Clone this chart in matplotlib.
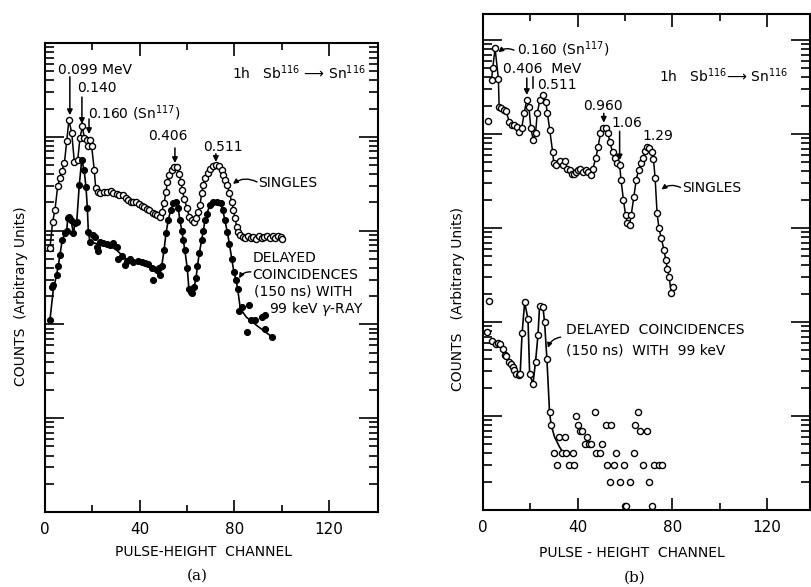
import matplotlib
matplotlib.use("Agg")
import matplotlib.pyplot as plt
from matplotlib.ticker import LogLocator, NullFormatter

# ---------------------------------------------------------- #
#  Data (counts in arbitrary units)     #
# ---------------------------------------------------------- #
# (a) singles
SINGLES_A_CH = [2.1, 3.2, 4.2, 5.4, 6.3, 7.0, 8.2, 9.2, 10.1, 11.3,
                12.4, 13.8, 14.8, 15.8, 16.6, 17.6, 18.3, 19.0, 19.7, 20.8,
                21.4, 22.5, 23.2, 24.9, 26.3, 27.8, 28.9, 30.3, 31.4, 32.8,
                34.2, 35.2, 36.2, 37.3, 38.4, 39.9, 40.8, 41.8, 42.9, 44.1,
                45.5, 46.5, 47.5, 48.6, 49.3, 50.3, 51.1, 51.7, 52.5, 53.5,
                54.6, 55.9, 56.7, 57.5, 58.0, 58.9, 59.9, 61.0, 62.0, 63.0,
                63.8, 64.8, 65.5, 66.2, 66.9, 67.6, 68.7, 69.7, 70.8, 72.2,
                73.6, 74.6, 75.3, 76.0, 77.0, 77.9, 78.9, 79.6, 80.3, 81.0,
                81.7, 82.4, 83.5, 84.7, 85.8, 87.0, 88.0, 89.2, 90.3, 91.5,
                92.7, 93.8, 95.0, 96.2, 97.3, 98.5, 99.6, 100.3]
SINGLES_A_CT = [650, 1230, 1660, 3020, 3630, 4270, 5250, 9120, 15100, 11000,
                5370, 5620, 9770, 12900, 9770, 9330, 7940, 9330, 7940, 4470,
                2880, 2570, 2510, 2550, 2570, 2630, 2510, 2450, 2400, 2380,
                2240, 2140, 2040, 2000, 2040, 1910, 1820, 1780, 1700, 1660,
                1550, 1510, 1450, 1410, 1580, 1950, 2570, 3310, 3890, 4470,
                4790, 4790, 3980, 3310, 2690, 2190, 1740, 1410, 1290, 1230,
                1350, 1580, 1860, 2510, 3090, 3630, 4070, 4570, 4900, 5010,
                4900, 4470, 3890, 3470, 3090, 2510, 2040, 1660, 1350, 1100,
                977, 891, 851, 832, 871, 832, 851, 813, 871, 832,
                851, 871, 832, 871, 832, 871, 851, 813]

# (a) delayed coincidences, measured points
DELAYED_A_CH = [2.1, 2.8, 3.5, 4.9, 5.6, 6.3, 7.3, 8.4, 9.2, 9.6,
                10.3, 11.0, 12.0, 12.7, 13.4, 14.5, 15.5, 16.5, 17.3, 17.9,
                18.3, 19.0, 20.4, 21.1, 21.8, 22.5, 23.2, 24.6, 26.0, 27.5,
                28.9, 30.3, 31.0, 32.4, 33.8, 34.5, 35.9, 37.3, 39.4, 40.8,
                42.2, 43.6, 45.0, 45.5, 47.2, 48.0, 48.6, 49.3, 50.3, 51.1,
                52.1, 53.1, 54.2, 55.3, 56.3, 57.0, 57.8, 58.4, 59.1, 60.1,
                60.8, 61.5, 62.2, 63.0, 63.8, 64.4, 65.2, 66.2, 66.9, 67.6,
                68.3, 69.7, 71.1, 72.8, 74.2, 75.1, 76.0, 77.0, 77.9, 78.9,
                79.8, 80.7, 81.4, 82.1, 83.1, 85.2, 86.3, 86.9, 88.7, 91.5,
                93.0, 93.0, 95.8]
DELAYED_A_CT = [112, 251, 263, 339, 417, 550, 794, 933, 1000, 1350,
                1410, 1290, 933, 1200, 1230, 3090, 5620, 4470, 2950, 1740,
                977, 759, 891, 851, 676, 603, 759, 741, 724, 708,
                741, 676, 501, 537, 427, 479, 501, 457, 479, 468,
                447, 437, 398, 295, 380, 398, 339, 417, 617, 933,
                1290, 1660, 1950, 2040, 1740, 1290, 1000, 794, 617, 398,
                240, 224, 214, 251, 309, 417, 575, 794, 1000, 1290,
                1510, 1860, 2040, 2040, 1950, 1660, 1290, 977, 724, 501,
                363, 295, 240, 138, 155, 83, 162, 112, 112, 120,
                126, 89, 74]

# (a) delayed coincidences, hand-drawn curve
DELAYED_A_LINE_CH = [2.1, 3.5, 4.9, 5.6, 6.3, 7.3, 8.4, 9.2, 9.6, 10.3,
                     11.0, 12.0, 12.7, 13.4, 14.5, 15.5, 16.5, 17.3, 17.9, 18.3,
                     19.0, 22.0, 26.0, 30.0, 34.0, 38.0, 42.0, 46.0, 48.6, 49.3,
                     50.3, 51.1, 52.1, 53.1, 54.2, 55.3, 56.3, 57.0, 57.8, 58.4,
                     59.1, 60.1, 60.8, 61.5, 62.2, 63.0, 63.8, 64.4, 65.2, 66.2,
                     66.9, 67.6, 68.3, 69.7, 71.1, 72.8, 74.2, 75.1, 76.0, 77.0,
                     77.9, 78.9, 79.8, 80.7, 81.4, 82.5, 85.0, 90.0, 95.8]
DELAYED_A_LINE_CT = [112, 234, 339, 417, 550, 794, 933, 1000, 1350, 1410,
                     1290, 933, 1200, 1230, 3090, 5620, 4470, 2950, 1740, 977,
                     759, 724, 708, 630, 501, 468, 447, 407, 398, 417,
                     617, 933, 1290, 1660, 1950, 2040, 1740, 1290, 1000, 794,
                     617, 398, 240, 224, 214, 251, 309, 417, 575, 794,
                     1000, 1290, 1510, 1860, 2040, 2040, 1950, 1660, 1290, 977,
                     724, 501, 363, 295, 240, 148, 120, 95, 74]

# (b) singles
SINGLES_B_CH = [3.6, 4.1, 5.1, 6.5, 6.8, 7.8, 8.8, 9.8, 11.1, 12.1,
                13.0, 14.2, 15.3, 16.3, 17.4, 18.4, 19.4, 20.2, 21.2, 22.2,
                22.9, 24.0, 25.2, 26.5, 27.2, 28.2, 29.4, 29.9, 31.0, 32.5,
                33.6, 34.5, 35.5, 36.6, 37.5, 38.3, 39.3, 40.3, 41.1, 42.4,
                43.3, 44.2, 45.5, 46.4, 47.6, 48.6, 49.6, 50.7, 51.8, 52.8,
                53.5, 54.7, 55.6, 56.6, 57.7, 58.3, 59.3, 60.2, 61.0, 61.9,
                62.6, 63.7, 64.7, 65.7, 66.8, 67.5, 68.5, 69.3, 70.3, 71.3,
                72.0, 72.7, 73.5, 74.3, 75.3, 76.4, 77.2, 77.9, 78.6, 79.5,
                80.4]
SINGLES_B_CT = [37200, 50100, 81300, 38900, 19500, 19100, 18200, 17400, 13500, 12600,
                12500, 12000, 10500, 11500, 16600, 22900, 19500, 11500, 8710, 10200,
                16600, 22900, 25700, 21900, 16600, 11000, 6460, 4900, 4680, 5130,
                4680, 5130, 4270, 4170, 3800, 3800, 3980, 4170, 4270, 3980,
                4170, 3980, 3630, 4270, 5500, 7240, 10200, 11500, 11700, 10200,
                8320, 6460, 5500, 4900, 4680, 3240, 2000, 1380, 1120, 1070,
                1380, 2140, 3240, 4170, 4900, 5500, 6610, 7240, 7080, 6460,
                5370, 3390, 1450, 1000, 776, 589, 457, 363, 302, 204,
                234]
SINGLES_B_STRAY_CH = [2.3]
SINGLES_B_STRAY_CT = [13800]

# (b) delayed coincidences
DELAYED_B_CH = [1.7, 2.5, 3.9, 5.3, 6.3, 7.3, 8.4, 9.1, 9.8, 10.9, 11.9, 12.6,
                13.3, 14.0, 15.2, 15.7, 16.5, 17.6, 19.0, 19.7, 21.1, 22.2,
                23.2, 23.9, 25.3, 26.0, 27.0, 28.1, 28.8]
DELAYED_B_CT = [79, 166, 63, 59, 60, 58, 52, 45, 44, 38, 36, 33,
                31, 28, 27, 28, 76, 162, 107, 28, 22, 38,
                72, 148, 145, 100, 40, 11, 8]
SCATTER_B_CH = [30.1, 31.2, 32.2, 33.4, 34.6, 35.2, 36.4, 37.8, 38.4, 39.4,
                40.1, 40.8, 42.0, 42.9, 43.9, 44.7, 45.6, 47.2, 47.9, 49.3,
                50.4, 51.8, 52.4, 53.5, 54.2, 55.2, 56.3, 57.7, 59.5, 59.8,
                60.6, 62.2, 63.7, 64.0, 65.4, 66.1, 67.5, 69.2, 70.3, 71.3,
                72.1, 74.2, 75.6]
SCATTER_B_CT = [4, 3, 6, 4, 6, 4, 3, 4, 3, 10,
                8, 7, 7, 5, 6, 5, 5, 11, 4, 4,
                5, 8, 3, 2, 8, 3, 4, 2, 3, 1.1,
                1.1, 2, 4, 8, 11, 7, 3, 7, 2, 1.1,
                3, 3, 3]
DELAYED_B_LINE_CH = [15.7, 16.5, 17.6, 19.0, 19.7, 21.1, 22.2, 23.2, 23.9, 25.3,
                     26.0, 27.0, 28.1, 28.8, 30.2, 32.3, 34.4]
DELAYED_B_LINE_CT = [28, 76, 162, 107, 28, 22, 38, 72, 148, 145,
                     100, 40, 11, 8, 6.0, 4.7, 3.85]

X_TICKS = [0, 40, 80, 120]
X_MINOR = [20, 60, 100]

FS = 10
OPEN = dict(marker='o', ms=4.4, mfc='white', mec='black', mew=1.0)
FULL = dict(marker='o', ms=4.3, mfc='black', mec='black', mew=0.8)


def setup_axes(ax, xmax, ymax):
    """
        Log axes with inward ticks on all four sides
    """
    ax.set_yscale('log')
    ax.set_xlim(0, xmax)
    ax.set_ylim(1, ymax)
    ax.set_xticks(X_TICKS)
    ax.set_xticks(X_MINOR, minor=True)
    ax.yaxis.set_major_locator(LogLocator(base=10, numticks=12))
    ax.yaxis.set_minor_locator(LogLocator(base=10, subs=range(2, 10), numticks=12))
    ax.yaxis.set_minor_formatter(NullFormatter())
    ax.tick_params(axis='y', which='both', direction='in', left=True,
                   right=True, labelleft=False, width=1.2)
    ax.tick_params(axis='y', which='major', length=14)
    ax.tick_params(axis='y', which='minor', length=6.5)
    ax.tick_params(axis='x', which='both', direction='in', top=True,
                   bottom=True, width=1.2, labelsize=11, pad=7)
    ax.tick_params(axis='x', which='major', length=9)
    ax.tick_params(axis='x', which='minor', length=5)
    for s in ax.spines.values():
        s.set_linewidth(1.5)


def arrow(ax, x, y0, y1):
    ax.annotate('', xy=(x, y1), xytext=(x, y0),
                arrowprops=dict(arrowstyle='-|>', lw=1.1, color='black',
                                mutation_scale=8, shrinkA=0, shrinkB=0))


def squiggle(ax, xy_from, xy_to):
    ax.annotate('', xy=xy_to, xytext=xy_from,
                arrowprops=dict(arrowstyle='-|>', lw=1.0, color='black',
                                mutation_scale=7, shrinkA=0, shrinkB=0,
                                connectionstyle='arc3,rad=0.3'))


def main():
    fig = plt.figure(figsize=(8.11, 5.87), dpi=100)
    ax_a = fig.add_axes([45 / 811, 1 - 512 / 587, 333 / 811, 469 / 587])
    ax_b = fig.add_axes([483 / 811, 1 - 510 / 587, 327 / 811, 496 / 587])

    # ---- panel (a) ----
    setup_axes(ax_a, 140.7, 1e5)
    ax_a.plot(SINGLES_A_CH, SINGLES_A_CT, color='black', lw=1.1, **OPEN)
    ax_a.plot(DELAYED_A_LINE_CH, DELAYED_A_LINE_CT, color='black', lw=1.2)
    ax_a.plot(DELAYED_A_CH, DELAYED_A_CT, ls='none', **FULL)

    ax_a.text(5.5, 51000, '0.099 MeV', fontsize=FS, va='center')
    arrow(ax_a, 10.5, 43600, 17000)
    ax_a.text(13.5, 33000, '0.140', fontsize=FS, va='center')
    arrow(ax_a, 15.6, 26500, 13700)
    ax_a.text(18.2, 17900, '0.160 (Sn$^{117}$)', fontsize=FS, va='center')
    arrow(ax_a, 18.6, 15500, 10700)
    ax_a.text(43.5, 10200, '0.406', fontsize=FS, va='center')
    arrow(ax_a, 54.9, 7600, 5250)
    ax_a.text(66.8, 7800, '0.511', fontsize=FS, va='center')
    arrow(ax_a, 72.2, 6600, 5400)
    ax_a.text(79, 48000, '1h   Sb$^{116}$ \u27f6 Sn$^{116}$', fontsize=FS, va='center')
    ax_a.text(90, 3200, 'SINGLES', fontsize=FS, va='center')
    squiggle(ax_a, (89.6, 3300), (79.4, 3150))
    ax_a.text(87.9, 510, 'DELAYED', fontsize=FS, va='center')
    ax_a.text(87.5, 336, 'COINCIDENCES', fontsize=FS, va='center')
    ax_a.text(88.3, 227, '(150 ns) WITH', fontsize=FS, va='center')
    ax_a.text(94.6, 146, '99 keV $\\gamma$-RAY', fontsize=FS, va='center')
    squiggle(ax_a, (87.0, 363), (82.0, 310))

    fig.text(21 / 811, 1 - 296 / 587, 'COUNTS  (Arbitrary Units)', rotation=90,
             ha='center', va='center', fontsize=FS)
    fig.text(204 / 811, 1 - 552 / 587, 'PULSE-HEIGHT  CHANNEL',
             ha='center', va='center', fontsize=FS)
    fig.text(197 / 811, 1 - 576 / 587, '(a)', ha='center', va='center',
             fontsize=11, family='DejaVu Serif')

    # ---- panel (b) ----
    setup_axes(ax_b, 138.1, 10 ** 5.277)
    ax_b.plot(SINGLES_B_CH, SINGLES_B_CT, color='black', lw=1.1, **OPEN)
    ax_b.plot(SINGLES_B_STRAY_CH, SINGLES_B_STRAY_CT, ls='none', **OPEN)
    ax_b.plot(DELAYED_B_LINE_CH, DELAYED_B_LINE_CT, color='black', lw=1.2)
    ax_b.plot(DELAYED_B_CH, DELAYED_B_CT, ls='none', **OPEN)
    ax_b.plot(SCATTER_B_CH, SCATTER_B_CT, ls='none', clip_on=False, **OPEN)

    ax_b.text(14.3, 80000, '0.160 (Sn$^{117}$)', fontsize=FS, va='center')
    squiggle(ax_b, (13.1, 78000), (6.5, 74000))
    ax_b.text(8.4, 49000, '0.406  MeV', fontsize=FS, va='center')
    arrow(ax_b, 18.5, 39500, 26000)
    ax_b.plot([21.1, 21.1], [40700, 30600], color='black', lw=1.1)
    ax_b.text(22.7, 33000, '0.511', fontsize=FS, va='center')
    ax_b.text(42.1, 20000, '0.960', fontsize=FS, va='center')
    arrow(ax_b, 51.0, 16600, 13200)
    ax_b.text(54.3, 13100, '1.06', fontsize=FS, va='center')
    arrow(ax_b, 57.7, 10700, 5250)
    ax_b.text(67.4, 9500, '1.29', fontsize=FS, va='center')
    ax_b.text(74.5, 41500, '1h   Sb$^{116}$\u27f6 Sn$^{116}$', fontsize=FS, va='center')
    ax_b.text(84.2, 2680, 'SINGLES', fontsize=FS, va='center')
    squiggle(ax_b, (83.4, 2700), (75.4, 2570))
    ax_b.text(34.9, 82, 'DELAYED  COINCIDENCES', fontsize=FS, va='center')
    ax_b.text(34.9, 50, '(150 ns)  WITH  99 keV', fontsize=FS, va='center')
    squiggle(ax_b, (32.8, 69), (27.4, 53))

    fig.text(458 / 811, 1 - 299 / 587, 'COUNTS   (Arbitrary Units)', rotation=90,
             ha='center', va='center', fontsize=FS)
    fig.text(632 / 811, 1 - 553 / 587, 'PULSE - HEIGHT  CHANNEL',
             ha='center', va='center', fontsize=FS)
    fig.text(635 / 811, 1 - 578 / 587, '(b)', ha='center', va='center',
             fontsize=11, family='DejaVu Serif')

    fig.savefig('out.png', dpi=100)


if __name__ == "__main__":
    main()
